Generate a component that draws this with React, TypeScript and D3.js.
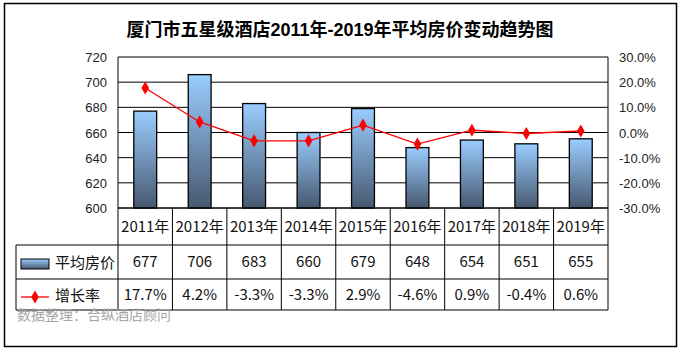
import * as d3 from "d3";

const W = 680;
const H = 351;

const years = ["2011年", "2012年", "2013年", "2014年", "2015年", "2016年", "2017年", "2018年", "2019年"];
const prices = [677, 706, 683, 660, 679, 648, 654, 651, 655];
const growth = [17.7, 4.2, -3.3, -3.3, 2.9, -4.6, 0.9, -0.4, 0.6];
const leftTicks = [600, 620, 640, 660, 680, 700, 720];
const rightTicks = [-30, -20, -10, 0, 10, 20, 30];

const PLOT = { left: 118, right: 608, top: 57, bottom: 208 };
const ROW1 = 245;
const ROW2 = 279;
const ROW3 = 310;
const TABLE_LEFT = 16;

const CJK = "'Noto Sans CJK SC', 'Noto Sans', sans-serif";
const ARIAL = "'Liberation Sans', Arial, sans-serif";

export default function App() {
	const x = d3.scaleBand<string>().domain(years).range([PLOT.left, PLOT.right]).padding(0);
	const yL = d3.scaleLinear().domain([600, 720]).range([PLOT.bottom, PLOT.top]);
	const yR = d3.scaleLinear().domain([-30, 30]).range([PLOT.bottom, PLOT.top]);
	const bw = x.bandwidth() * 0.42;
	const cx = (d: string) => (x(d) ?? 0) + x.bandwidth() / 2;

	const line = d3
		.line<number>()
		.x((_, i) => cx(years[i]))
		.y((d) => yR(d));
	const diamond = d3.symbol().type(d3.symbolDiamond).size(50)() ?? "";

	const colEdges = d3.range(years.length + 1).map((i) => PLOT.left + i * x.bandwidth());

	return (
		<svg width={W} height={H} style={{ position: "absolute", left: 0, top: 0, display: "block" }}>
			<defs>
				<linearGradient id="barGrad" x1="0" y1="0" x2="0" y2="1">
					<stop offset="0%" stopColor="#9acdff" />
					<stop offset="100%" stopColor="#475870" />
				</linearGradient>
			</defs>
			<rect x={0} y={0} width={W} height={H} fill="#fff" />
			<rect x={4.5} y={3.5} width={672} height={343} fill="none" stroke="#000" strokeWidth={1.5} />

			<text x={340} y={36} textAnchor="middle" fontFamily={`${ARIAL}, ${CJK}`} fontWeight="bold" fontSize={18}>
				厦门市五星级酒店2011年-2019年平均房价变动趋势图
			</text>

			{/* gridlines */}
			{leftTicks.map((t) => (
				<line key={t} x1={PLOT.left} x2={PLOT.right} y1={yL(t)} y2={yL(t)} stroke="#000" strokeWidth={1} />
			))}
			<line x1={PLOT.left} x2={PLOT.left} y1={PLOT.top} y2={PLOT.bottom} stroke="#000" />
			<line x1={PLOT.right} x2={PLOT.right} y1={PLOT.top} y2={PLOT.bottom} stroke="#000" />

			{/* left axis */}
			{leftTicks.map((t) => (
				<text key={t} x={107} y={yL(t) + 5} textAnchor="end" fontFamily={ARIAL} fontSize={13} fill="#222">
					{t}
				</text>
			))}
			{/* right axis */}
			{rightTicks.map((t) => (
				<text key={t} x={619} y={yR(t) + 5} fontFamily={ARIAL} fontSize={13} fill="#222">
					{t.toFixed(1)}%
				</text>
			))}

			{/* bars */}
			{prices.map((v, i) => (
				<rect
					key={years[i]}
					x={cx(years[i]) - bw / 2}
					y={yL(v)}
					width={bw}
					height={yL(600) - yL(v)}
					fill="url(#barGrad)"
					stroke="#000"
					strokeWidth={1.3}
				/>
			))}

			{/* growth line */}
			<path d={line(growth) ?? ""} fill="none" stroke="#ff0000" strokeWidth={1.3} />
			{growth.map((v, i) => (
				<path key={years[i]} d={diamond} transform={`translate(${cx(years[i])},${yR(v)})`} fill="#ff0000" />
			))}

			{/* data table */}
			{colEdges.map((xe, i) => (
				<line key={i} x1={xe} x2={xe} y1={PLOT.bottom} y2={ROW3} stroke="#000" />
			))}
			<line x1={PLOT.left} x2={PLOT.right} y1={PLOT.bottom} y2={PLOT.bottom} stroke="#000" />
			{[ROW1, ROW2, ROW3].map((yy) => (
				<line key={yy} x1={TABLE_LEFT} x2={PLOT.right} y1={yy} y2={yy} stroke="#000" />
			))}
			<line x1={TABLE_LEFT} x2={TABLE_LEFT} y1={ROW1} y2={ROW3} stroke="#000" />

			{years.map((yr, i) => (
				<g key={yr} fontFamily={CJK} fontSize={15} textAnchor="middle" fill="#111">
					<text x={cx(yr)} y={(PLOT.bottom + ROW1) / 2 + 5}>
						{yr}
					</text>
					<text x={cx(yr)} y={(ROW1 + ROW2) / 2 + 5}>
						{prices[i]}
					</text>
					<text x={cx(yr)} y={(ROW2 + ROW3) / 2 + 5}>
						{growth[i].toFixed(1)}%
					</text>
				</g>
			))}

			{/* legend keys */}
			<rect x={21} y={259} width={28} height={10} fill="url(#barGrad)" stroke="#000" strokeWidth={1} />
			<text x={55} y={268} fontFamily={CJK} fontSize={15} fill="#111">
				平均房价
			</text>
			<line x1={21} x2={49} y1={297} y2={297} stroke="#ff0000" strokeWidth={1.3} />
			<path d={diamond} transform="translate(35,297)" fill="#ff0000" />
			<text x={55} y={301} fontFamily={CJK} fontSize={15} fill="#111">
				增长率
			</text>

			<text x={17} y={320} fontFamily={CJK} fontSize={14} fill="#a6a6a6">
				数据整理：合纵酒店顾问
			</text>
		</svg>
	);
}
